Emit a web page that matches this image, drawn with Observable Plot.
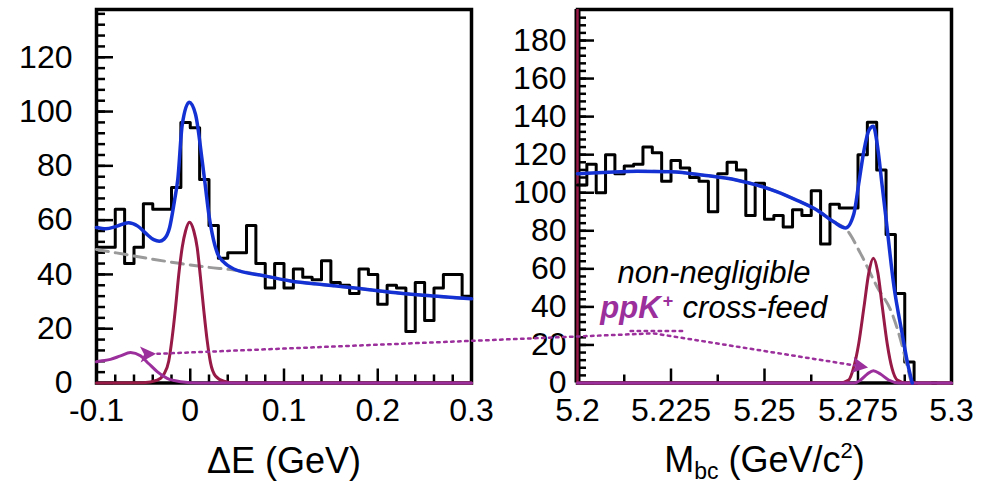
<!DOCTYPE html>
<html>
<head>
<meta charset="utf-8">
<script src="https://cdn.jsdelivr.net/npm/d3@7"></script>
<script src="https://cdn.jsdelivr.net/npm/@observablehq/plot@0.6"></script>
<style>
  html, body { margin: 0; padding: 0; background: #fff; }
  #wrap { position: relative; width: 992px; height: 485px; overflow: hidden; background: #fff; }
  #wrap svg { position: absolute; left: 0; top: 0; }
</style>
</head>
<body>
<div id="wrap"></div>
<script>
// ---------------- data ----------------
// Left panel: Delta E histogram, 40 bins of 0.01 GeV from -0.1
const leftBinStart = -0.1, leftBinWidth = 0.01;
const leftCounts = [50, 50, 64, 44, 50, 66, 64, 64, 72, 96, 94, 75, 58, 46, 48, 48, 58, 44, 35, 44,
                    35, 42, 39, 38, 45, 37, 36, 33, 42, 40, 29, 36, 35, 19, 37, 23, 35, 40, 40, 32];
// Right panel: Mbc histogram, 40 bins of 0.0025 GeV/c^2 from 5.2
const rightBinStart = 5.2, rightBinWidth = 0.0025;
const rightCounts = [104, 115, 100, 120, 110, 114, 115, 124, 121, 106, 117, 113, 108, 106, 90, 110, 116, 112, 88, 105,
                     86, 88, 82, 91, 88, 101, 73, 94, 92, 92, 120, 137, 112, 78, 47, 11, 0, 0, 0, 0];

// Fit curves: [x, y]
const leftTotal = [[-0.1,57.3],[-0.09,56.8],[-0.078,57.8],[-0.066,59],[-0.056,57.8],[-0.047,55],[-0.039,52.8],
  [-0.033,52.2],[-0.028,53],[-0.022,57.3],[-0.0168,67.2],[-0.0133,75],[-0.0086,95],[-0.0012,103.4],[0.0056,99],
  [0.0127,82],[0.0163,72],[0.0198,62.2],[0.0234,55],[0.0287,48],[0.0358,44.5],[0.0465,42],[0.0785,39.5],
  [0.107,37.6],[0.1425,36.2],[0.178,34.9],[0.2136,33.4],[0.249,32.3],[0.3,31]];
const leftBkg = [[-0.1,49.2],[-0.07,47.4],[-0.04,45.6],[-0.01,44],[0.02,42.6],[0.0465,41.6],[0.0785,39.5],
  [0.107,37.6],[0.1425,36.2],[0.178,34.9],[0.2136,33.4],[0.249,32.3],[0.3,31]];
const leftSignal = [[-0.1,0],[-0.05,0.1],[-0.0353,1],[-0.0282,3.2],[-0.0229,8.1],[-0.0193,16.7],[-0.0157,27.8],
  [-0.0122,40.1],[-0.0086,49.9],[-0.005,56],[-0.0008,59.2],[0.0038,56],[0.0074,49.9],[0.0109,38.9],[0.0145,26.6],
  [0.0181,15.5],[0.0216,7.5],[0.0269,2.6],[0.0358,0.7],[0.05,0],[0.3,0]];
const leftCross = [[-0.1,7.8],[-0.0957,8.1],[-0.0851,8.7],[-0.0744,10],[-0.0637,11.2],[-0.0531,10],[-0.0442,7.1],
  [-0.0353,4.2],[-0.0246,1.7],[-0.0104,0.5],[0.01,0],[0.3,0]];

const rightTotal = [[5.2,110],[5.207,110.6],[5.216,111.3],[5.2249,111],[5.2338,109.2],[5.2427,106.6],[5.248,104],
  [5.2534,100.5],[5.2587,96],[5.2641,90.8],[5.2685,84.7],[5.2717,81.5],[5.2739,89],[5.2752,104.8],[5.2766,122.3],
  [5.2779,132.8],[5.2791,135],[5.2801,126],[5.2815,103],[5.2824,88],[5.2846,51],[5.2868,26],[5.2882,11],[5.2895,0]];
const rightBkg = [[5.2,110],[5.207,110.6],[5.216,111.3],[5.2249,111],[5.2338,109.2],[5.2427,106.6],[5.248,104],
  [5.2534,100.5],[5.2587,96],[5.2641,90.8],[5.2685,84.7],[5.2721,80.3],[5.2757,68],[5.2801,50.6],[5.2841,36.6],
  [5.2864,22.6],[5.2882,8.6],[5.2895,0],[5.3,0]];
const rightSignal = [[5.2,0],[5.27,0],[5.2725,1.6],[5.2739,8.6],[5.2752,20.8],[5.2766,40],[5.2779,58],[5.2791,65.5],
  [5.2803,58],[5.2815,40],[5.2828,20.8],[5.2841,7.7],[5.2855,1.6],[5.288,0],[5.3,0]];
const rightCross = [[5.2,0],[5.274,0],[5.2757,1.6],[5.2775,4.7],[5.2791,6.5],[5.281,4.7],[5.2832,1.6],[5.286,0],[5.3,0]];

// cross-feed arrow (in Mbc panel coordinates, reaching over into the Delta E panel)
const crossArrow = [[5.0858,15.2],[5.2203,26.1],[5.2762,8.6]];
const crossUnderline = [[5.2142,27.3],[5.228,27.3]];

// annotation texts (Mbc panel coordinates)
const noteLine1 = [{x: 5.2107, y: 52.5, text: "non-negligible"}];
const notePpk = [{x: 5.2061, y: 34.1, text: "ppK"}];
const notePlus = [{x: 5.2228, y: 40.2, text: "+"}];
const noteCross = [{x: 5.2281, y: 34.1, text: "cross-feed"}];

// ticks & labels
const leftXTicks = [-0.1, 0, 0.1, 0.2, 0.3];
const leftXMinor = [-0.08, -0.06, -0.04, -0.02, 0.02, 0.04, 0.06, 0.08, 0.12, 0.14, 0.16, 0.18, 0.22, 0.24, 0.26, 0.28];
const leftYTicks = [0, 20, 40, 60, 80, 100, 120];
const leftYMinor = d3.range(4, 137, 4);
const rightXTicks = [5.2, 5.225, 5.25, 5.275, 5.3];
const rightXMinor = [5.2125, 5.2375, 5.2625, 5.2875];
const rightYTicks = [0, 20, 40, 60, 80, 100, 120, 140, 160, 180];
const rightYMinor = d3.range(4, 196, 4);

const leftXLabel = "ΔE (GeV)";

// ---------------- styling ----------------
const W = 992, H = 485;
const FONT = "'Liberation Sans', Arial, Helvetica, sans-serif";
const BLUE = "#1432d4", MAROON = "#961946", PURPLE = "#9b2f9b", GREY = "#9a9a9a";
const TOP = 9, BOTTOM = 382.5;
const frameH = BOTTOM - TOP;
const TICK_FS = 32, TITLE_FS = 36, NOTE_FS = 31;

const hist = (counts, start, w) => {
  const pts = counts.map((c, i) => ({x: start + i * w, y: c}));
  pts.push({x: start + counts.length * w, y: counts[counts.length - 1]});
  return pts;
};
const X = d => d[0], Y = d => d[1];
const baseStyle = {background: "transparent", overflow: "visible", fontFamily: FONT, fontSize: "32px", color: "black"};

function tickMarks(xMajor, xMinor, yMajor, yMinor, frameW) {
  return [
    Plot.tickY(yMinor, {y: d => d, stroke: "black", strokeWidth: 2.5, insetRight: frameW - 9}),
    Plot.tickY(yMajor, {y: d => d, stroke: "black", strokeWidth: 2.5, insetRight: frameW - 17}),
    Plot.tickX(xMinor, {x: d => d, stroke: "black", strokeWidth: 2.5, insetTop: frameH - 8}),
    Plot.tickX(xMajor, {x: d => d, stroke: "black", strokeWidth: 2.5, insetTop: frameH - 14})
  ];
}

// ---------------- left panel ----------------
const L0 = 96, L1 = 471;
const leftPlot = Plot.plot({
  width: W, height: H,
  marginLeft: L0, marginRight: W - L1, marginTop: TOP, marginBottom: H - BOTTOM,
  x: {domain: [-0.1, 0.3]},
  y: {domain: [0, 137.6]},
  style: baseStyle,
  marks: [
    ...tickMarks(leftXTicks, leftXMinor, leftYTicks, leftYMinor, L1 - L0),
    Plot.axisY({ticks: leftYTicks, tickSize: 0, tickPadding: 24, tickFormat: String, label: null, fontSize: TICK_FS}),
    Plot.axisX({ticks: leftXTicks, tickSize: 0, tickPadding: 15, tickFormat: String, label: null, fontSize: TICK_FS}),
    Plot.frame({stroke: "black", strokeWidth: 3.5}),
    Plot.line(hist(leftCounts, leftBinStart, leftBinWidth), {x: "x", y: "y", curve: "step-after", stroke: "black", strokeWidth: 3}),
    Plot.line(leftBkg, {x: X, y: Y, curve: "monotone-x", stroke: GREY, strokeWidth: 3, strokeDasharray: "12,7"}),
    Plot.line(leftSignal, {x: X, y: Y, curve: "monotone-x", stroke: MAROON, strokeWidth: 3}),
    Plot.line(leftCross, {x: X, y: Y, curve: "monotone-x", stroke: PURPLE, strokeWidth: 3}),
    Plot.line(leftTotal, {x: X, y: Y, curve: "monotone-x", stroke: BLUE, strokeWidth: 3.5}),
    Plot.text([leftXLabel], {frameAnchor: "bottom", dy: 90, lineAnchor: "bottom", fontSize: TITLE_FS, fill: "black"})
  ]
});

// ---------------- right panel ----------------
const R0 = 577, R1 = 951;
const rightPlot = Plot.plot({
  width: W, height: H,
  marginLeft: R0, marginRight: W - R1, marginTop: TOP, marginBottom: H - BOTTOM,
  x: {domain: [5.2, 5.3]},
  y: {domain: [0, 196.3]},
  style: baseStyle,
  marks: [
    ...tickMarks(rightXTicks, rightXMinor, rightYTicks, rightYMinor, R1 - R0),
    Plot.axisY({ticks: rightYTicks, tickSize: 0, tickPadding: 11, tickFormat: String, label: null, fontSize: TICK_FS}),
    Plot.axisX({ticks: rightXTicks, tickSize: 0, tickPadding: 15, tickFormat: String, label: null, fontSize: TICK_FS}),
    Plot.frame({stroke: "black", strokeWidth: 3.5}),
    Plot.ruleX([5.2], {stroke: "black", strokeWidth: 6}),
    Plot.ruleX([5.2], {stroke: MAROON, strokeWidth: 2.5}),
    Plot.line(hist(rightCounts, rightBinStart, rightBinWidth), {x: "x", y: "y", curve: "step-after", stroke: "black", strokeWidth: 3}),
    Plot.line(rightBkg, {x: X, y: Y, curve: "monotone-x", stroke: GREY, strokeWidth: 3, strokeDasharray: "12,7"}),
    Plot.line(rightSignal, {x: X, y: Y, curve: "monotone-x", stroke: MAROON, strokeWidth: 3}),
    Plot.line(rightCross, {x: X, y: Y, curve: "monotone-x", stroke: PURPLE, strokeWidth: 3}),
    Plot.line(rightTotal, {x: X, y: Y, curve: "monotone-x", stroke: BLUE, strokeWidth: 3.5}),
    Plot.line(crossArrow, {x: X, y: Y, stroke: PURPLE, strokeWidth: 2.5, strokeDasharray: "2.5,4.5",
                           markerStart: "arrow", markerEnd: "arrow"}),
    Plot.line(crossUnderline, {x: X, y: Y, stroke: PURPLE, strokeWidth: 2.5, strokeDasharray: "2.5,4.5"}),
    Plot.text(noteLine1, {x: "x", y: "y", text: "text", textAnchor: "start", lineAnchor: "bottom",
                          fontSize: NOTE_FS, fontStyle: "italic", fill: "black"}),
    Plot.text(notePpk, {x: "x", y: "y", text: "text", textAnchor: "start", lineAnchor: "bottom",
                        fontSize: NOTE_FS, fontStyle: "italic", fontWeight: "bold", fill: PURPLE}),
    Plot.text(notePlus, {x: "x", y: "y", text: "text", textAnchor: "start", lineAnchor: "bottom",
                         fontSize: 18, fontWeight: "bold", fill: PURPLE}),
    Plot.text(noteCross, {x: "x", y: "y", text: "text", textAnchor: "start", lineAnchor: "bottom",
                          fontSize: NOTE_FS, fontStyle: "italic", fill: "black"}),
    Plot.text(["Mbc (GeV/c2)"], {frameAnchor: "bottom", dy: 89, lineAnchor: "bottom", fontSize: TITLE_FS,
                                  fill: "black", className: "mbc-title"})
  ]
});

// rich text for the Mbc axis title (subscript / superscript)
d3.select(rightPlot).selectAll(".mbc-title text").each(function () {
  const t = d3.select(this);
  t.text(null);
  t.append("tspan").text("M");
  t.append("tspan").attr("font-size", 23).attr("dy", 7).text("bc");
  t.append("tspan").attr("dy", -7).text(" (GeV/c");
  t.append("tspan").attr("font-size", 22).attr("dy", -14).text("2");
  t.append("tspan").attr("dy", 14).text(")");
});

// filled, larger arrowheads for the cross-feed arrow
d3.select(rightPlot).selectAll("marker")
  .attr("markerWidth", 9).attr("markerHeight", 9)
  .attr("fill", PURPLE).attr("stroke", "none")
  .select("path").attr("d", "M-4.5,-3.6L2.5,0L-4.5,3.6L-2.8,0Z");

const wrap = document.getElementById("wrap");
wrap.appendChild(leftPlot);
wrap.appendChild(rightPlot);
</script>
</body>
</html>
